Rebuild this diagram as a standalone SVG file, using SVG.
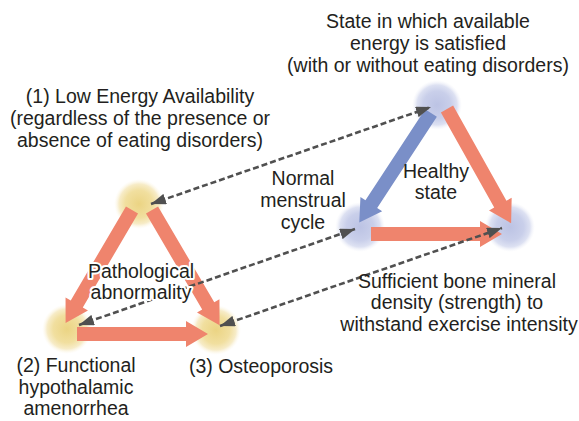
<svg xmlns="http://www.w3.org/2000/svg" xmlns:xlink="http://www.w3.org/1999/xlink" width="579" height="421" viewBox="0 0 579 421">
<style>
text{font-family:"Liberation Sans","Noto Sans CJK JP",Arial,sans-serif;font-size:19.5px;fill:#231f20;text-anchor:middle}
.halo{stroke:#fff;stroke-width:4;paint-order:stroke;stroke-linejoin:round}
.dash{fill:none;stroke:#505050;stroke-width:2.6;stroke-dasharray:6 3;marker-start:url(#ah);marker-end:url(#ah)}
.salmon{fill:#ef846d}
.blue{fill:#7a8fc8}
</style>
<defs>
<radialGradient id="gy">
<stop offset="0" stop-color="#ebd483"/>
<stop offset="0.55" stop-color="#f1df9f"/>
<stop offset="0.8" stop-color="#f7ecc8"/>
<stop offset="1" stop-color="#fdf9ee" stop-opacity="0"/>
</radialGradient>
<radialGradient id="gb">
<stop offset="0" stop-color="#bcc3e4"/>
<stop offset="0.55" stop-color="#c9cfea"/>
<stop offset="0.8" stop-color="#dde1f2"/>
<stop offset="1" stop-color="#f3f4fa" stop-opacity="0"/>
</radialGradient>
<marker id="ah" markerUnits="userSpaceOnUse" markerWidth="15" markerHeight="11" refX="15" refY="5.5" orient="auto-start-reverse" viewBox="0 0 15 11">
<path d="M0,0 L15,5.5 L0,11 z" fill="#505050"/>
</marker>
<polygon id="fat" points="0,-7 109,-7 109,-13 131,0 109,13 109,7 0,7"/>
</defs>

<g id="node-low-energy">
<circle cx="139" cy="204" r="25" fill="url(#gy)"/>
</g>
<g id="node-fha">
<circle cx="67" cy="329" r="25" fill="url(#gy)"/>
</g>
<g id="node-osteoporosis">
<circle cx="216" cy="330" r="25" fill="url(#gy)"/>
</g>
<g id="node-energy-satisfied">
<circle cx="437" cy="105" r="25" fill="url(#gb)"/>
</g>
<g id="node-menstrual">
<circle cx="360" cy="227" r="25" fill="url(#gb)"/>
</g>
<g id="node-bone">
<circle cx="510" cy="227" r="25" fill="url(#gb)"/>
</g>

<g id="thick-arrows">
<use xlink:href="#fat" href="#fat" class="salmon" transform="translate(132,210) rotate(120.45)"/>
<use xlink:href="#fat" href="#fat" class="salmon" transform="translate(152,210) rotate(59.62) scale(1.02,1)"/>
<use xlink:href="#fat" href="#fat" class="salmon" transform="translate(77,334)"/>
<use xlink:href="#fat" href="#fat" class="blue" transform="translate(431,113) rotate(123.2)"/>
<use xlink:href="#fat" href="#fat" class="salmon" transform="translate(447,109) rotate(60.7)"/>
<use xlink:href="#fat" href="#fat" class="salmon" transform="translate(371,234)"/>
</g>

<g id="connectors">
<line class="dash" x1="151" y1="204" x2="431" y2="107"/>
<line class="dash" x1="79" y1="325" x2="355" y2="229"/>
<line class="dash" x1="220" y1="326" x2="502" y2="228"/>
</g>

<g id="labels">
<text x="428" y="28">State in which available</text>
<text x="428" y="50">energy is satisfied</text>
<text x="428" y="72">(with or without eating disorders)</text>

<text x="140" y="103">(1) Low Energy Availability</text>
<text x="140" y="125">(regardless of the presence or</text>
<text x="140" y="147">absence of eating disorders)</text>

<text x="303" y="185">Normal</text>
<text x="303" y="207">menstrual</text>
<text x="303" y="229">cycle</text>

<text x="436" y="178">Healthy</text>
<text x="436" y="199">state</text>

<text class="halo" x="141" y="278">Pathological</text>
<text class="halo" x="141" y="299">abnormality</text>

<text x="457" y="288">Sufficient bone mineral</text>
<text x="457" y="309">density (strength) to</text>
<text x="459" y="331">withstand exercise intensity</text>

<text x="76" y="372">(2) Functional</text>
<text x="76" y="394">hypothalamic</text>
<text x="76" y="415">amenorrhea</text>

<text x="261" y="373">(3) Osteoporosis</text>
</g>
</svg>
